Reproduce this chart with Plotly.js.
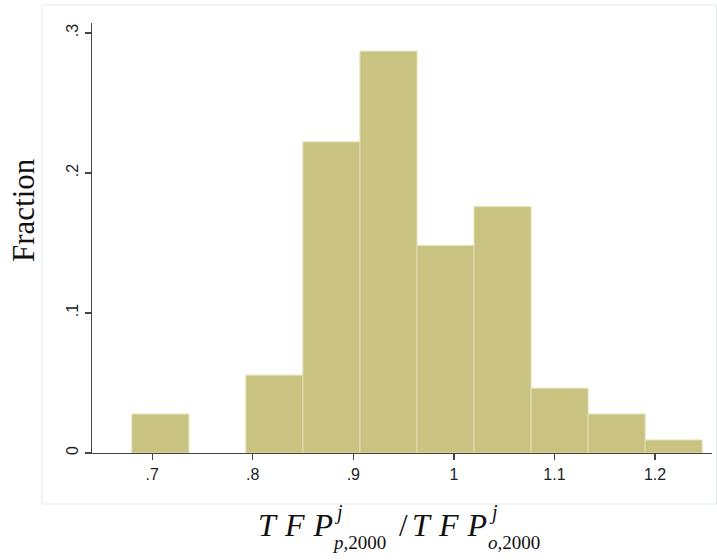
<!DOCTYPE html>
<html>
<head>
<meta charset="utf-8">
<script src="https://cdn.plot.ly/plotly-3.0.1.min.js"></script>
<style>html,body{margin:0;padding:0;background:#fff;}#chart{width:717px;height:560px;}</style>
</head>
<body>
<div id="chart"></div>
<script>
// Histogram bin edges (ratio TFP_p / TFP_o)
const binEdges = [0.6798, 0.7365, 0.7932, 0.8499, 0.9066, 0.9633, 1.0200, 1.0767, 1.1334, 1.1901, 1.2468];
// Fraction of observations in each bin
const fractions = [0.0278, 0, 0.0556, 0.2222, 0.2870, 0.1481, 0.1759, 0.0463, 0.0278, 0.0093];
const xTickVals = [0.7, 0.8, 0.9, 1, 1.1, 1.2];
const xTickText = ['.7', '.8', '.9', '1', '1.1', '1.2'];
const yTickVals = [0, 0.1, 0.2, 0.3];
const yTickText = ['0', '.1', '.2', '.3'];

const centers = fractions.map((_, i) => (binEdges[i] + binEdges[i + 1]) / 2);
const widths = fractions.map((_, i) => binEdges[i + 1] - binEdges[i]);

const trace = {
  type: 'bar',
  x: centers,
  y: fractions,
  width: widths,
  marker: {
    color: '#c9c281',
    line: { color: '#e3dfb3', width: fractions.map(v => (v > 0 ? 1 : 0)) }
  },
  hoverinfo: 'x+y'
};

const serif = 'Liberation Serif, DejaVu Serif, serif';
const L = 92, R = 712, T = 23, B = 453;
const px = v => (v - L) / (R - L);
const py = v => (B - v) / (B - T);
const gap = '&#8201;&#8202;';
const tfp = '<i>T' + gap + 'F' + gap + 'P</i>';

const titleParts = [
  { text: tfp, x: 333, y: 525, anchor: 'right', size: 32 },
  { text: '<i>j</i>', x: 334, y: 512, anchor: 'left', size: 20 },
  { text: '<i>p</i>,2000', x: 332, y: 542, anchor: 'left', size: 19 },
  { text: '/', x: 404, y: 525, anchor: 'center', size: 31 },
  { text: tfp, x: 412, y: 525, anchor: 'left', size: 32 },
  { text: '<i>j</i>', x: 489, y: 512, anchor: 'left', size: 20 },
  { text: '<i>o</i>,2000', x: 488, y: 542, anchor: 'left', size: 19 }
];

const annotations = titleParts.map(p => ({
  xref: 'paper', yref: 'paper', x: px(p.x), y: py(p.y),
  xanchor: p.anchor, yanchor: 'middle', showarrow: false,
  borderpad: 0, borderwidth: 0,
  text: p.text, font: { family: serif, size: p.size, color: '#111' }
}));
annotations.push({
  xref: 'paper', yref: 'paper', x: px(23), y: py(210),
  xanchor: 'center', yanchor: 'middle', showarrow: false, textangle: -90,
  borderpad: 0, borderwidth: 0,
  text: 'Fraction', font: { family: serif, size: 31, color: '#111' }
});

const layout = {
  width: 717, height: 560,
  margin: { l: L, r: 717 - R, t: T, b: 560 - B },
  paper_bgcolor: '#ffffff', plot_bgcolor: '#ffffff',
  showlegend: false,
  bargap: 0,
  xaxis: {
    range: [0.6402, 1.2566],
    tickvals: xTickVals, ticktext: xTickText,
    ticks: 'outside', ticklen: 6, tickcolor: '#444', tickwidth: 1.2,
    showline: true, linecolor: '#444', linewidth: 1.3,
    showgrid: false, zeroline: false,
    tickfont: { family: 'Liberation Sans, Arial, sans-serif', size: 16, color: '#222' }
  },
  yaxis: {
    range: [0, 0.3071],
    tickvals: yTickVals, ticktext: yTickText,
    tickangle: -90,
    ticks: 'outside', ticklen: 6, tickcolor: '#444', tickwidth: 1.2,
    showline: true, linecolor: '#444', linewidth: 1.3,
    showgrid: false, zeroline: false,
    tickfont: { family: 'Liberation Sans, Arial, sans-serif', size: 16, color: '#222' }
  },
  shapes: [{
    type: 'rect', xref: 'paper', yref: 'paper',
    x0: px(42), x1: px(716.5), y0: py(504), y1: py(5),
    line: { color: '#e4eaea', width: 1 }, fillcolor: 'rgba(0,0,0,0)', layer: 'below'
  }],
  annotations: annotations
};

Plotly.newPlot('chart', [trace], layout, { displayModeBar: false, staticPlot: true });
</script>
</body>
</html>
